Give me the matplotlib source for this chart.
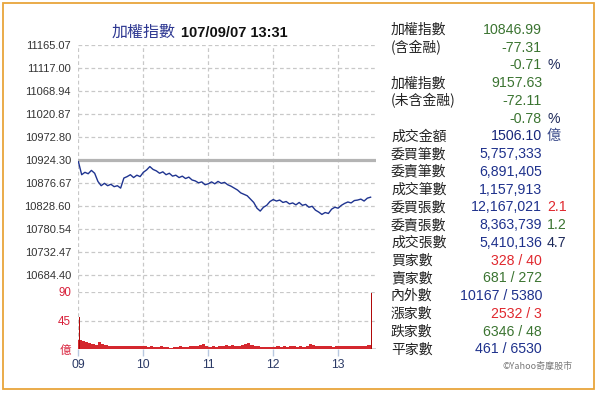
import numpy as np
import matplotlib
matplotlib.use("Agg")
import matplotlib.pyplot as plt
from matplotlib.patches import Rectangle

plt.rcParams['font.family'] = ['Noto Sans CJK TC', 'DejaVu Sans']

# ---------------- data ----------------
prev_close = 10924.30
y_ticks = [11165.07, 11117.00, 11068.94, 11020.87, 10972.80, 10924.30,
           10876.67, 10828.60, 10780.54, 10732.47, 10684.40]
y_tick_labels = ['11165.07', '11117.00', '11068.94', '11020.87', '10972.80', '10924.30',
                 '10876.67', '10828.60', '10780.54', '10732.47', '10684.40']
hour_ticks = [0, 60, 120, 180, 240]
hour_labels = ['09', '10', '11', '12', '13']

# index every 3 minutes from 09:00
idx_minutes = list(range(0, 271, 3))
idx_values = [10921, 10894, 10899, 10896, 10903, 10897, 10880, 10871, 10876, 10871,
              10874, 10869, 10871, 10866, 10887, 10890, 10894, 10888, 10893, 10890,
              10899, 10904, 10911, 10905, 10902, 10897, 10900, 10894, 10897, 10891,
              10893, 10888, 10891, 10886, 10889, 10883, 10881, 10877, 10879, 10873,
              10875, 10879, 10875, 10880, 10876, 10878, 10873, 10870, 10866, 10862,
              10856, 10853, 10850, 10843, 10836, 10824, 10818, 10826, 10830, 10838,
              10842, 10839, 10841, 10836, 10838, 10833, 10835, 10831, 10836, 10830,
              10832, 10826, 10828, 10820, 10816, 10811, 10815, 10813, 10822, 10826,
              10824, 10830, 10834, 10837, 10835, 10840, 10841, 10843, 10839, 10845,
              10847]

# volume (億) per 3-minute bin
vol_minutes = list(range(0, 270, 3))
vol_values = [14, 12, 11, 9, 8, 7, 11, 8, 6, 5,
              5, 4, 5, 5, 4, 5, 4, 4, 5, 4,
              4, 3, 4, 3, 3, 4, 3, 3, 2, 3,
              3, 4, 3, 3, 4, 4, 5, 6, 8, 5,
              3, 4, 3, 4, 5, 6, 5, 6, 5, 4,
              6, 8, 10, 7, 5, 4, 3, 3, 3, 3,
              3, 4, 3, 4, 3, 4, 5, 3, 4, 3,
              5, 8, 6, 5, 4, 4, 5, 4, 3, 4,
              5, 4, 4, 5, 4, 4, 5, 5, 4, 6]
spike_minutes = [1, 271]
spike_values = [50, 88]
vol_ticks = [0, 45, 90]
vol_tick_labels = ['億', '45', '90']

title_name = '加權指數'
title_time = '107/09/07 13:31'

info_labels = ['加權指數', '(含金融)', '', '加權指數', '(未含金融)', '',
               '成交金額', '委買筆數', '委賣筆數', '成交筆數', '委買張數', '委賣張數',
               '成交張數', '買家數', '賣家數', '內外數', '漲家數', '跌家數', '平家數']
info_values = ['10846.99', '-77.31', '-0.71', '9157.63', '-72.11', '-0.78',
               '1506.10', '5,757,333', '6,891,405', '1,157,913', '12,167,021', '8,363,739',
               '5,410,136', '328 / 40', '681 / 272', '10167 / 5380', '2532 / 3', '6346 / 48',
               '461 / 6530']
info_suffix = ['', '', '%', '', '', '%', '億', '', '', '', '2.1', '1.2', '4.7',
               '', '', '', '', '', '']
footer = '©Yahoo奇摩股市'

# ---------------- styles ----------------
GREEN = '#3b7431'
NAVY = '#1e318c'
RED = '#e0282e'
DARK = '#222222'
value_colors = [GREEN, GREEN, GREEN, GREEN, GREEN, GREEN, '#17267a', NAVY, NAVY, NAVY,
                NAVY, NAVY, NAVY, RED, GREEN, NAVY, RED, GREEN, NAVY]
suffix_colors = [DARK, DARK, '#1e2a5a', DARK, DARK, '#1e2a5a', '#3a4a8a', DARK, DARK, DARK,
                 RED, GREEN, '#1e2a5a', DARK, DARK, DARK, DARK, DARK, DARK]
NUM_FONT = ['Liberation Sans', 'DejaVu Sans']
CJK_FONT = ['Noto Sans CJK TC', 'DejaVu Sans']

W, H = 600, 395
fig = plt.figure(figsize=(W / 100, H / 100), dpi=100)
fig.patch.set_facecolor('white')

def fx(px):
    return px / W

def fy(py):
    return 1 - py / H

grid_kw = dict(color='#c8c8c8', linewidth=0.9, linestyle=(0, (3.0, 2.2)))

# main axes: top y=45, bottom y=292 (gridline 10684.40 at y=275)
left, right = 78, 376
ax = fig.add_axes([fx(left), fy(292), fx(right - left), (292 - 45) / H])
px_per_unit = (275 - 45) / (11165.07 - 10684.40)
ax.set_ylim(10684.40 - (292 - 275) / px_per_unit, 11165.07)
ax.set_xlim(-0.4, 275)
for s in ax.spines.values():
    s.set_visible(False)
ax.set_yticks(y_ticks)
ax.set_yticklabels(y_tick_labels)
ax.set_xticks(hour_ticks)
ax.tick_params(axis='y', length=0, pad=5, labelsize=8, labelcolor='#333333')
ax.tick_params(axis='x', length=0, labelbottom=False)
for lab in ax.get_yticklabels():
    lab.set_fontfamily(NUM_FONT)
ax.grid(True, **grid_kw)
ax.set_axisbelow(True)
ax.axhline(prev_close, color='#b4b4b4', linewidth=2.3, zorder=2)
ax.plot(idx_minutes, idx_values, color='#1f3490', linewidth=1.0, zorder=3)

# volume axes: 90 at y=292, 0 at y=349
axv = fig.add_axes([fx(left), fy(349), fx(right - left), (349 - 292) / H])
axv.set_ylim(0, 90)
axv.set_xlim(-0.4, 275)
for s in axv.spines.values():
    s.set_visible(False)
axv.set_yticks(vol_ticks)
axv.set_yticklabels(vol_tick_labels)
axv.set_xticks(hour_ticks)
axv.set_xticklabels(hour_labels)
axv.tick_params(axis='y', length=0, pad=5, labelsize=8.3, labelcolor='#d8203a')
axv.tick_params(axis='x', length=5, width=1, color='#b8c8e0', pad=2.5,
                labelsize=8.8, labelcolor='#2b3a66')
for lab in axv.get_xticklabels():
    lab.set_fontfamily(NUM_FONT)
for lab in axv.get_yticklabels()[1:]:
    lab.set_fontfamily(NUM_FONT)
axv.grid(True, **grid_kw)
axv.set_axisbelow(True)
axv.axhline(0, color='#cccccc', linewidth=1.3, zorder=1)
axv.bar(vol_minutes, vol_values, width=3, align='edge', color='#d4282e',
        linewidth=0, zorder=2)
axv.bar(spike_minutes, spike_values, width=0.7, color='#b00a0a', linewidth=0, zorder=3)

# title
fig.text(fx(176), fy(37), title_name, ha='right', va='baseline', fontsize=11.5,
         color='#2e3892', family=CJK_FONT)
fig.text(fx(181), fy(37), title_time, ha='left', va='baseline', fontsize=10.5,
         fontweight='bold', color='#111111', family=NUM_FONT)

# right info panel (baseline positions)
row0, step = 34, 17.74
for i, (lab, val, suf) in enumerate(zip(info_labels, info_values, info_suffix)):
    y = fy(row0 + i * step)
    if lab:
        fig.text(fx(391), y, lab, ha='left', va='baseline', fontsize=10, color=DARK,
                 family=CJK_FONT)
    fig.text(fx(542), y, val, ha='right', va='baseline', fontsize=10.2,
             color=value_colors[i], family=NUM_FONT)
    if suf:
        fam = CJK_FONT if suf == '億' else NUM_FONT
        fig.text(fx(547), y, suf, ha='left', va='baseline', fontsize=10.2,
                 color=suffix_colors[i], family=fam)

fig.text(fx(573), fy(369), footer, ha='right', va='baseline', fontsize=6.5,
         color='#777777', family=CJK_FONT)

# orange frame
fig.patches.append(Rectangle((fx(3), fy(389)), fx(591), (389 - 3) / H,
                             transform=fig.transFigure, fill=False,
                             edgecolor='#e8a53a', linewidth=1.3))

fig.savefig('out.png', dpi=100, facecolor='white')
